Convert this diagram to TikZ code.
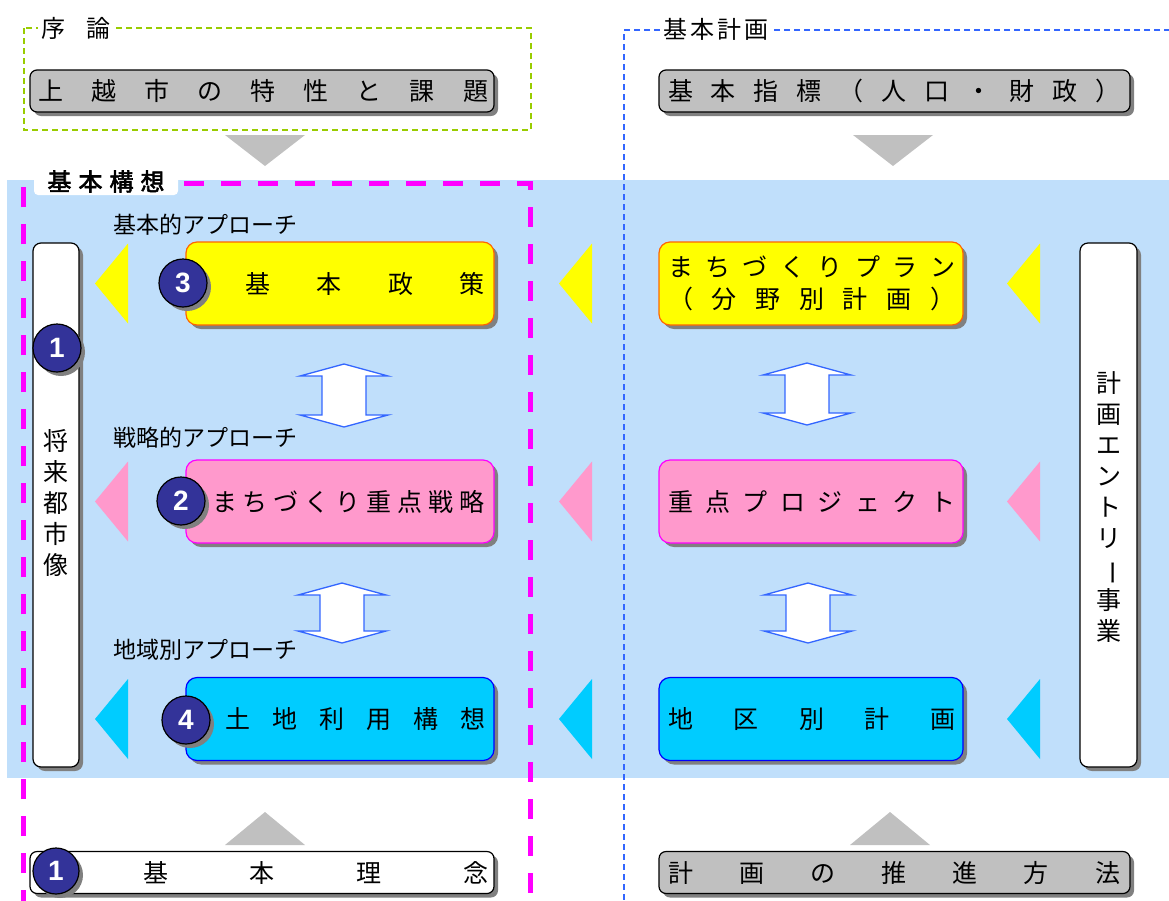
\documentclass[tikz,border=0pt]{standalone}
\usepackage{fontspec}
\usepackage{graphicx}
\setmainfont{Noto Sans CJK JP}
\newfontfamily\boldjp{Noto Sans CJK JP}[FakeBold=2.5]
\newfontfamily\numfont{Liberation Sans}
\usetikzlibrary{shadows,calc}
\definecolor{boxgray}{HTML}{C0C0C0}
\definecolor{shgray}{HTML}{808080}
\definecolor{bgblue}{HTML}{C0DFFB}
\definecolor{frgreen}{HTML}{99CC00}
\definecolor{frblue}{HTML}{3366FF}
\definecolor{frmag}{HTML}{FF00FF}
\definecolor{ybox}{HTML}{FFFF00}
\definecolor{yborder}{HTML}{FF6600}
\definecolor{pbox}{HTML}{FF99CC}
\definecolor{pborder}{HTML}{FF00FF}
\definecolor{cbox}{HTML}{00CCFF}
\definecolor{cborder}{HTML}{0000FF}
\definecolor{numblue}{HTML}{333399}
\newcommand\spr[4]{\hbox to #1pt{\hskip#2pt\relax #4\hskip#3pt\relax}}
\newcommand\dblarrow[3]{%
  \draw[dblarr] (#1,#2) -- ++(44,12) -- ++(-22,0) |- ($(#1,#3)+(22,-12)$) -- ++(22,0) -- (#1,#3) -- ++(-44,-12) -- ++(22,0) |- ($(#1,#2)+(-22,12)$) -- ++(-22,0) -- cycle;}
\tikzset{
  shad/.style={drop shadow={shadow xshift=4pt,shadow yshift=-4pt,fill=shgray,opacity=1}},
  boxtext/.style={font=\fontsize{25}{32}\selectfont},
  graybox/.style={rectangle,rounded corners=7pt,draw=black,line width=1.2pt,fill=boxgray,shad,inner sep=0pt,minimum height=42pt,boxtext},
  whitebox/.style={graybox,fill=white},
  colbox/.style={rectangle,rounded corners=11pt,line width=1.2pt,shad,inner sep=0pt,minimum height=83pt,boxtext,align=center},
  vertbox/.style={rectangle,rounded corners=8pt,draw=black,line width=1.2pt,fill=white,shad,minimum height=524pt,inner sep=0pt},
  vtext/.style={align=center,inner sep=0pt,font=\fontsize{25}{31}\selectfont},
  numc/.style={circle,draw=black,line width=1.2pt,fill=numblue,shad,minimum size=48pt,inner sep=0pt,text=white,font=\numfont\bfseries\fontsize{28}{28}\selectfont},
  approach/.style={anchor=west,inner sep=0pt,font=\fontsize{23}{23}\selectfont},
  frlabel/.style={fill=white,inner sep=3pt,font=\fontsize{24}{24}\selectfont},
  dblarr/.style={draw=frblue,fill=white,line width=1.3pt,line join=miter},
}
\begin{document}
\begin{tikzpicture}[x=1pt,y=-1pt]
\useasboundingbox (0,0) rectangle (1169,900);
\clip (0,0) rectangle (1169,900);
% background
\fill[bgblue] (7,180) rectangle (1175,778);
% frames
\draw[frgreen,line width=1.5pt,dash pattern=on 6pt off 4pt] (24,28) rectangle (531,130);
\node[frlabel] (lbljoron) at (76,28) {序\hspace{22pt}論};
\draw[frblue,line width=1.5pt,dash pattern=on 6pt off 4pt] (1180,30) -- (624,30) -- (624,910);
\node[frlabel] (lblkeikaku) at (716,29) {基\hspace{3pt}本\hspace{3pt}計\hspace{3pt}画};
\draw[frmag,line width=5pt,dash pattern=on 20pt off 17pt] (23,910) -- (23,183) -- (530,183) -- (530,910);
\node[fill=white,rounded corners=4pt,minimum width=144pt,minimum height=27pt,inner sep=0pt,font=\boldjp\fontsize{24}{24}\selectfont] (lblkoso) at (106,181.5) {基\hspace{7pt}本\hspace{7pt}構\hspace{7pt}想};
% top boxes
\node[graybox,minimum width=464pt] (tokusei) at (262,91) {\spr{464}{8}{6}{上\hfill 越\hfill 市\hfill の\hfill 特\hfill 性\hfill と\hfill 課\hfill 題}};
\node[graybox,minimum width=471pt] (shihyo) at (894.5,91) {\spr{471}{9}{10}{基\hfill 本\hfill 指\hfill 標\hfill （\hfill 人\hfill 口\hfill ・\hfill 財\hfill 政\hfill ）}};
% gray triangles
\fill[boxgray] (225,135) -- (305,135) -- (265,166) -- cycle;
\fill[boxgray] (853,135) -- (933,135) -- (893,166) -- cycle;
\fill[boxgray] (225,845) -- (305,845) -- (265,812) -- cycle;
\fill[boxgray] (850,845) -- (930,845) -- (890,812) -- cycle;
% vertical boxes
\node[vertbox,minimum width=46pt] (toshizo) at (56,505) {};
\node[vtext] (toshizotxt) at (56,503) {将\\来\\都\\市\\像};
\node[vertbox,minimum width=57pt] (entry) at (1108.5,505) {};
\node[vtext] (entrytxt) at (1108.5,507) {計\\画\\エ\\ン\\ト\\リ\\\rotatebox[origin=c]{-90}{ー}\\事\\業};
% approach labels
\node[approach] (ap1) at (113,225) {基本的アプローチ};
\node[approach] (ap2) at (113,438) {戦略的アプローチ};
\node[approach] (ap3) at (113,650) {地域別アプローチ};
% triangles pointing left
\foreach \tx/\cy/\col in {95/283.5/ybox,95/501.5/pbox,95/719/cbox,559/283.5/ybox,559/501.5/pbox,559/719/cbox,1007/283.5/ybox,1007/501.5/pbox,1007/719/cbox}{
  \fill[\col] (\tx,\cy) -- (\tx+33,\cy-40) -- (\tx+33,\cy+40) -- cycle;
}
% left column boxes
\node[colbox,fill=ybox,draw=yborder,minimum width=308pt] (seisaku) at (340,283.5) {\spr{308}{59}{9}{基\hfill 本\hfill 政\hfill 策}};
\node[colbox,fill=pbox,draw=pborder,minimum width=308pt] (senryaku) at (340,501.5) {\spr{308}{26}{9}{ま\hfill ち\hfill づ\hfill く\hfill り\hfill 重\hfill 点\hfill 戦\hfill 略}};
\node[colbox,fill=cbox,draw=cborder,minimum width=308pt] (tochi) at (340,719) {\spr{308}{39}{9}{土\hfill 地\hfill 利\hfill 用\hfill 構\hfill 想}};
% right column boxes
\node[colbox,fill=ybox,draw=yborder,minimum width=304pt] (plan) at (811,283.5) {\spr{304}{9}{8}{ま\hfill ち\hfill づ\hfill く\hfill り\hfill プ\hfill ラ\hfill ン}\\\spr{304}{9}{8}{（\hfill 分\hfill 野\hfill 別\hfill 計\hfill 画\hfill ）}};
\node[colbox,fill=pbox,draw=pborder,minimum width=304pt] (project) at (811,501.5) {\spr{304}{9}{8}{重\hfill 点\hfill プ\hfill ロ\hfill ジ\hfill ェ\hfill ク\hfill ト}};
\node[colbox,fill=cbox,draw=cborder,minimum width=304pt] (chiku) at (811,719) {\spr{304}{9}{8}{地\hfill 区\hfill 別\hfill 計\hfill 画}};
% double arrows
\dblarrow{344}{364}{427}
\dblarrow{342}{583}{643}
\dblarrow{807}{363}{425}
\dblarrow{808}{583}{643}
% bottom boxes
\node[whitebox,minimum width=464pt] (rinen) at (262,872.5) {\spr{464}{113}{6}{基\hfill 本\hfill 理\hfill 念}};
\node[graybox,minimum width=471pt] (suishin) at (894.5,872.5) {\spr{471}{9}{10}{計\hfill 画\hfill の\hfill 推\hfill 進\hfill 方\hfill 法}};
% number circles
\node[numc] (n1a) at (57,348) {1};
\node[numc] (n3) at (183,283) {3};
\node[numc] (n2) at (181,501) {2};
\node[numc] (n4) at (186,720) {4};
\node[numc,minimum size=46pt] (n1b) at (56,871) {1};
\end{tikzpicture}
\end{document}
